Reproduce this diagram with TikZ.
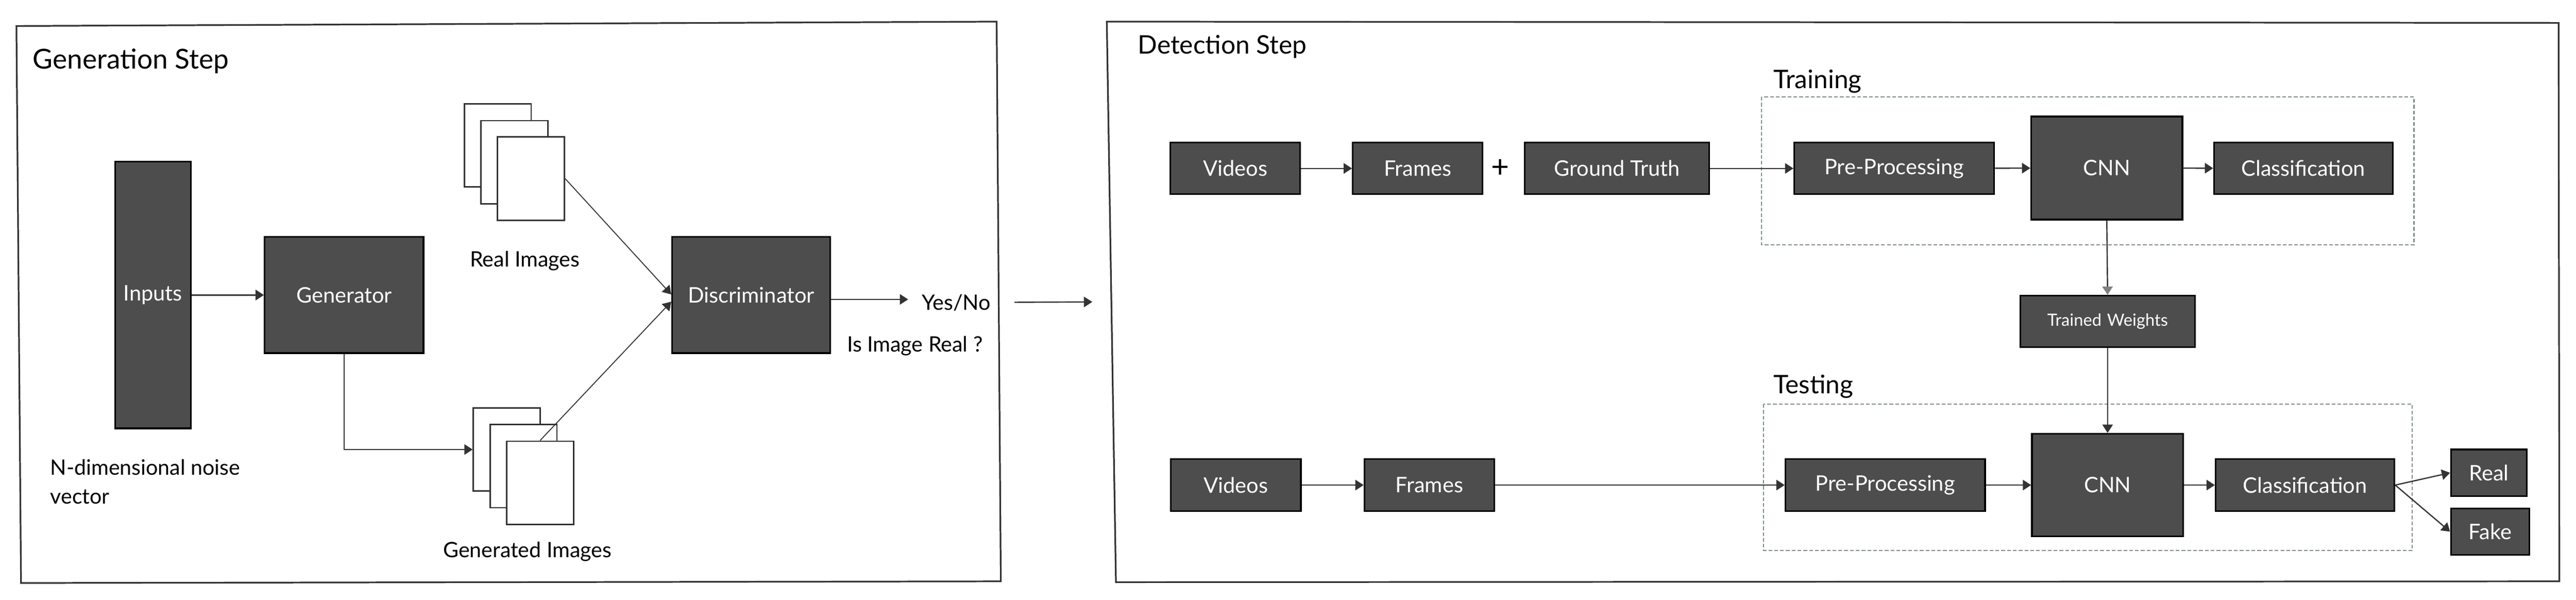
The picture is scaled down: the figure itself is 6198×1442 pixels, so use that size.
\documentclass[tikz,border=0pt]{standalone}
\usepackage{fontspec}
\setmainfont{Lato}
\usetikzlibrary{arrows.meta}
\definecolor{boxfill}{HTML}{4D4D4D}
\definecolor{linec}{HTML}{333333}
\definecolor{dashc}{HTML}{7F8C8D}
\begin{document}
\begin{tikzpicture}[x=0.2pt,y=-0.2pt,
  dbox/.style={draw=black, fill=boxfill, line width=0.8pt, text=white, inner sep=0pt, font=\fontsize{10.3}{12}\selectfont},
  smalltxt/.style={font=\fontsize{8.1}{10}\selectfont},
  img/.style={draw=linec, fill=white, line width=0.7pt, minimum width=32.2pt, minimum height=40pt, inner sep=0pt},
  arr/.style={draw=linec, line width=0.6pt, -{Triangle[length=4pt,width=5pt]}},
  thin/.style={draw=linec, line width=0.45pt},
  frameline/.style={draw=linec, line width=0.8pt},
  dashbox/.style={draw=dashc, line width=0.6pt, dash pattern=on 1.8pt off 1pt},
  label/.style={inner sep=0pt, text=black, font=\fontsize{10.2}{13.8}\selectfont},
  title/.style={inner sep=0pt, text=black, font=\fontsize{13.2}{15}\selectfont},
  subtitle/.style={inner sep=0pt, text=black, font=\fontsize{12.3}{14}\selectfont}]
\useasboundingbox (0,0) rectangle (6198,1442);

% frames
\draw[frameline] (39.5,62.5) -- (2398,52) -- (2408,1398) -- (50.6,1402) -- cycle;
\draw[frameline] (2663,52) -- (6156,55) -- (6158,1398) -- (2685,1400) -- cycle;

% dashed groups
\draw[dashbox] (4238,233) rectangle (5808,589);
\draw[dashbox] (4243,972) rectangle (5804,1324);

% titles
\node[title, anchor=base west] (gtitle) at (78,165) {Generation Step};
\node[subtitle, anchor=base west] (dtitle) at (2737,129) {Detection Step};
\node[subtitle, anchor=base west] (trtitle) at (4266,212) {Training};
\node[subtitle, anchor=base west] (tetitle) at (4266,947) {Testing};

% generation step
\node[dbox, minimum width=36.4pt, minimum height=128.2pt] (inputs) at (368,709.5) {Inputs};
\node[dbox, minimum width=76.4pt, minimum height=55.8pt] (gen) at (828,709.5) {Generator};
\node[dbox, minimum width=76.2pt, minimum height=55.8pt] (disc) at (1807.5,709.5) {Discriminator};

\node[img] (r1) at (1197.5,349.5) {};
\node[img] (r2) at (1237.5,390) {};
\node[img] (r3) at (1277.5,429.5) {};
\node[img] (g1) at (1219.5,1081) {};
\node[img] (g2) at (1259.5,1121) {};
\node[img] (g3) at (1299.5,1161) {};

\node[label, anchor=base] (realimg) at (1263,642) {Real Images};
\node[label, anchor=base] (genimg) at (1269,1341) {Generated Images};
\node[label, anchor=north west, align=left] (noise) at (120,1104) {N-dimensional noise\\vector};
\node[label, anchor=base west] (yesno) at (2217,745) {Yes/No};
\node[label, anchor=base west] (isreal) at (2037,846) {Is Image Real ?};

\draw[arr] (inputs.east) -- (gen.west);
\draw[arr] (gen.south) |- (g1.west);
\draw[thin, -{Triangle[length=4pt,width=5pt]}] (r3.east) -- ([yshift=0.3pt]disc.west);
\draw[thin, -{Triangle[length=4pt,width=5pt]}] (g3.north) -- ([yshift=-3.2pt]disc.west);
\coordinate (ynend) at (2185,720);
\draw[arr] (disc.east |- ynend) -- (ynend);

% between steps
\coordinate (m1) at (2441,727);
\coordinate (m2) at (2628,726);
\draw[arr] (m1) -- (m2);

% detection step - training
\node[dbox, minimum width=62.4pt, minimum height=24.8pt] (vid1) at (2972,405) {Videos};
\node[dbox, minimum width=62.4pt, minimum height=24.8pt] (fr1) at (3411,405) {Frames};
\node[inner sep=0pt, font=\fontsize{15}{16}\selectfont] (plus) at (3610,405) {+};
\node[dbox, minimum width=88.6pt, minimum height=24.8pt] (gt) at (3890.5,405) {Ground Truth};
\node[dbox, minimum width=96.2pt, minimum height=24.8pt] (pp1) at (4557.5,405) {Pre-Processing};
\node[dbox, minimum width=72.8pt, minimum height=49.6pt] (cnn1) at (5069,404) {CNN};
\node[dbox, minimum width=86pt, minimum height=24.8pt] (cl1) at (5542,405) {Classification};

\draw[arr] (vid1) -- (fr1);
\draw[arr] (gt) -- (pp1);
\draw[arr] (pp1) -- (cnn1);
\draw[arr] (cnn1) -- (cl1);

% trained weights
\node[dbox, smalltxt, minimum width=84pt, minimum height=24.8pt] (tw) at (5071,773) {Trained\,\,Weights};
\draw[draw=linec, line width=0.6pt, -{Triangle[length=4pt,width=5pt,color=gray]}] (cnn1.south) -- (tw.north);

% detection step - testing
\node[dbox, minimum width=62.6pt, minimum height=25pt] (vid2) at (2973.5,1166.5) {Videos};
\node[dbox, minimum width=62.4pt, minimum height=25pt] (fr2) at (3439,1166.5) {Frames};
\node[dbox, minimum width=96pt, minimum height=25pt] (pp2) at (4536,1166.5) {Pre-Processing};
\node[dbox, minimum width=72.8pt, minimum height=49.4pt] (cnn2) at (5071,1166.5) {CNN};
\node[dbox, minimum width=86pt, minimum height=25pt] (cl2) at (5546,1166.5) {Classification};
\node[dbox, minimum width=36.6pt, minimum height=22.4pt] (real) at (5988.5,1137) {Real};
\node[dbox, minimum width=37.8pt, minimum height=22.2pt] (fake) at (5991.5,1278.5) {Fake};

\draw[arr] (tw.south) -- (cnn2.north);
\draw[arr] (vid2) -- (fr2);
\draw[arr] (fr2) -- (pp2);
\draw[arr] (pp2) -- (cnn2);
\draw[arr] (cnn2) -- (cl2);
\draw[arr] (cl2.east) -- (real.west);
\draw[arr] (cl2.east) -- (fake.west);
\end{tikzpicture}
\end{document}
